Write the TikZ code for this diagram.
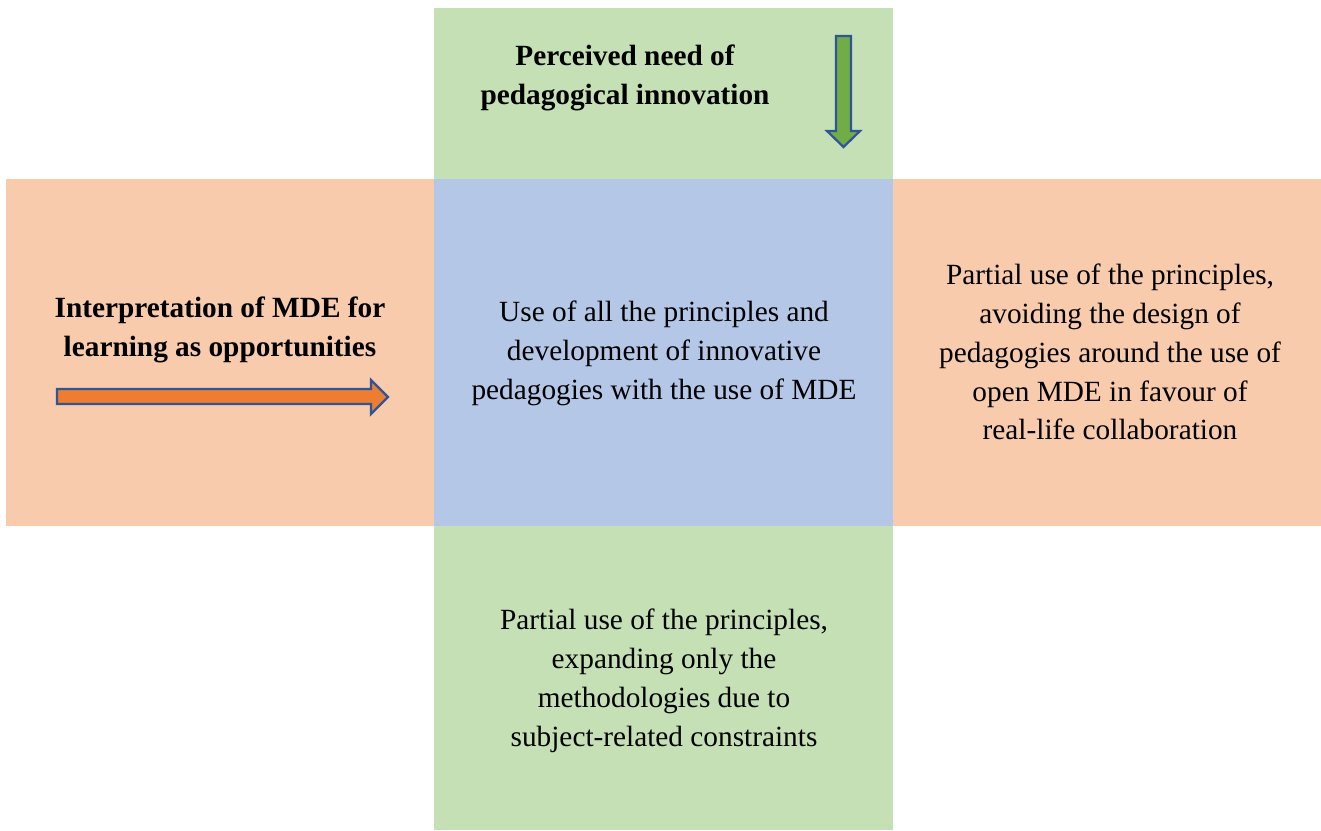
\documentclass[tikz,border=0pt]{standalone}
\usepackage{fontspec}
\setmainfont{Liberation Serif}
\definecolor{paleGreen}{HTML}{C5E0B4}
\definecolor{paleOrange}{HTML}{F8CBAD}
\definecolor{paleBlue}{HTML}{B4C7E7}
\definecolor{arrOrange}{HTML}{ED7D31}
\definecolor{arrGreen}{HTML}{70AD47}
\definecolor{arrEdge}{HTML}{2F5597}
\tikzset{
  txt/.style={align=center, text=black, font=\fontsize{29.3}{38.9}\selectfont, inner sep=0pt},
  btxt/.style={txt, font=\fontsize{29.3}{38.9}\selectfont\bfseries},
  blockarrow/.style={draw=arrEdge, line width=2.2pt, line join=miter},
}
\begin{document}
\begin{tikzpicture}[x=1pt,y=-1pt]
\useasboundingbox (0,0) rectangle (1321,830);
% regions
\fill[paleGreen] (434,8) rectangle (893,179);
\fill[paleOrange] (6,179) rectangle (1321,526);
\fill[paleBlue] (434,179) rectangle (893,526);
\fill[paleGreen] (434,526) rectangle (893,830);
% texts
\node[btxt] (need) at (625,78) {Perceived need of\\pedagogical innovation};
\node[btxt] (interp) at (220,330) {Interpretation of MDE for\\learning as opportunities};
\node[txt] (all) at (664,353) {Use of all the principles and\\development of innovative\\pedagogies with the use of MDE};
\node[txt] (right) at (1110,352) {Partial use of the principles,\\avoiding the design of\\pedagogies around the use of\\open MDE in favour of\\real-life collaboration};
\node[txt] (bottom) at (664,681) {Partial use of the principles,\\expanding only the\\methodologies due to\\subject-related constraints};
% arrows
\draw[blockarrow, fill=arrGreen] (836,36) -- (851,36) -- (851,131) -- (860,131) -- (843.5,147) -- (827,131) -- (836,131) -- cycle;
\draw[blockarrow, fill=arrOrange] (57,389) -- (371,389) -- (371,380) -- (388,397) -- (371,414) -- (371,404) -- (57,404) -- cycle;
\end{tikzpicture}
\end{document}
